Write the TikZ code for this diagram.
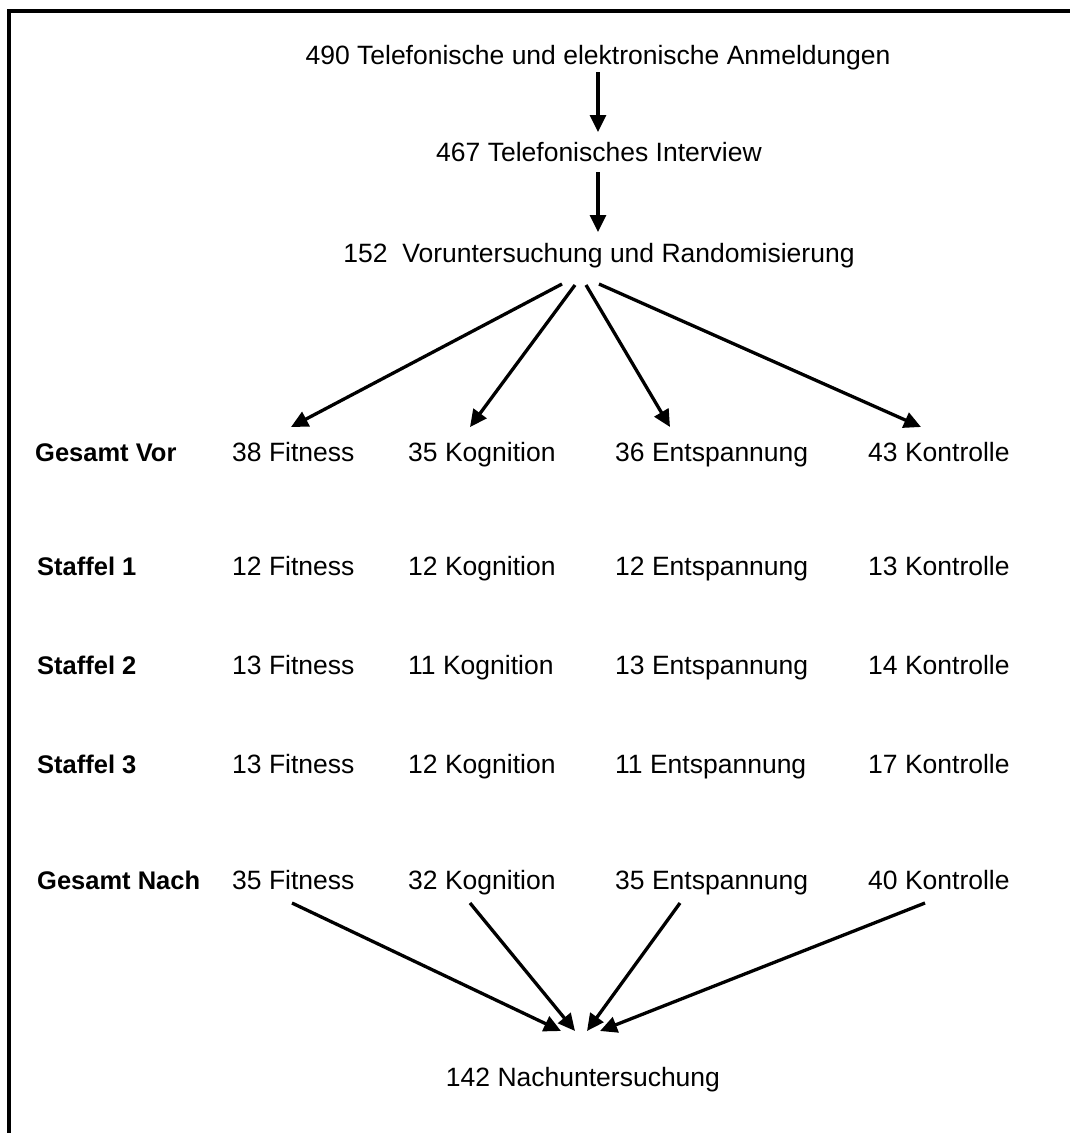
\documentclass[tikz,border=0pt]{standalone}
\usepackage{fontspec}
\setmainfont{Liberation Sans}
\usetikzlibrary{arrows.meta}
\begin{document}
\begin{tikzpicture}[x=1pt,y=-1pt,
  txt/.style={font=\fontsize{26.5}{30}\selectfont, inner sep=0pt, anchor=base west},
  ctxt/.style={font=\fontsize{26.5}{30}\selectfont, inner sep=0pt, anchor=base},
  lbl/.style={font=\fontsize{25.5}{30}\selectfont\bfseries, inner sep=0pt, anchor=base west},
  arr/.style={line width=3.3pt, -{Triangle[length=17pt,width=16pt]}},
  frame/.style={line width=3.2pt}]
\useasboundingbox (0,0) rectangle (1070,1133);
\draw[frame] (9,1133) -- (9,11) -- (1070,11);

% top chain
\node[ctxt] (anm) at (598,64) {490 Telefonische und elektronische Anmeldungen};
\node[ctxt] (int) at (599,161) {467 Telefonisches Interview};
\node[ctxt] (rand) at (599,262) {152\ \ Voruntersuchung und Randomisierung};
\coordinate (a1s) at (598,72);  \coordinate (a1e) at (598,132);
\coordinate (a2s) at (598,172); \coordinate (a2e) at (598,232);
\draw[arr] (a1s) -- (a1e);
\draw[arr] (a2s) -- (a2e);

% rows
\node[lbl] (lv) at (35,461) {Gesamt Vor};
\node[lbl] (l1) at (37,575) {Staffel 1};
\node[lbl] (l2) at (37,674) {Staffel 2};
\node[lbl] (l3) at (37,773) {Staffel 3};
\node[lbl] (ln) at (37,889) {Gesamt Nach};

\node[txt] (v1) at (232,461) {38 Fitness};
\node[txt] (v2) at (408,461) {35 Kognition};
\node[txt] (v3) at (615,461) {36 Entspannung};
\node[txt] (v4) at (868,461) {43 Kontrolle};

\node[txt] (s11) at (232,575) {12 Fitness};
\node[txt] (s12) at (408,575) {12 Kognition};
\node[txt] (s13) at (615,575) {12 Entspannung};
\node[txt] (s14) at (868,575) {13 Kontrolle};

\node[txt] (s21) at (232,674) {13 Fitness};
\node[txt] (s22) at (408,674) {11 Kognition};
\node[txt] (s23) at (615,674) {13 Entspannung};
\node[txt] (s24) at (868,674) {14 Kontrolle};

\node[txt] (s31) at (232,773) {13 Fitness};
\node[txt] (s32) at (408,773) {12 Kognition};
\node[txt] (s33) at (615,773) {11 Entspannung};
\node[txt] (s34) at (868,773) {17 Kontrolle};

\node[txt] (n1) at (232,889) {35 Fitness};
\node[txt] (n2) at (408,889) {32 Kognition};
\node[txt] (n3) at (615,889) {35 Entspannung};
\node[txt] (n4) at (868,889) {40 Kontrolle};

\node[ctxt] (nach) at (583,1086) {142 Nachuntersuchung};

% fan out
\coordinate (r1) at (562,284); \coordinate (r2) at (575,285);
\coordinate (r3) at (586,285); \coordinate (r4) at (599,284);
\coordinate (t1) at (291,427); \coordinate (t2) at (470,427);
\coordinate (t3) at (670,427); \coordinate (t4) at (921,427);
\draw[arr] (r1) -- (t1);
\draw[arr] (r2) -- (t2);
\draw[arr] (r3) -- (t3);
\draw[arr] (r4) -- (t4);

% fan in
\coordinate (b1) at (292,903); \coordinate (b2) at (470,903);
\coordinate (b3) at (680,903); \coordinate (b4) at (925,903);
\coordinate (e1) at (561,1031); \coordinate (e2) at (575,1031);
\coordinate (e3) at (587,1031); \coordinate (e4) at (600,1031);
\draw[arr] (b1) -- (e1);
\draw[arr] (b2) -- (e2);
\draw[arr] (b3) -- (e3);
\draw[arr] (b4) -- (e4);
\end{tikzpicture}
\end{document}
